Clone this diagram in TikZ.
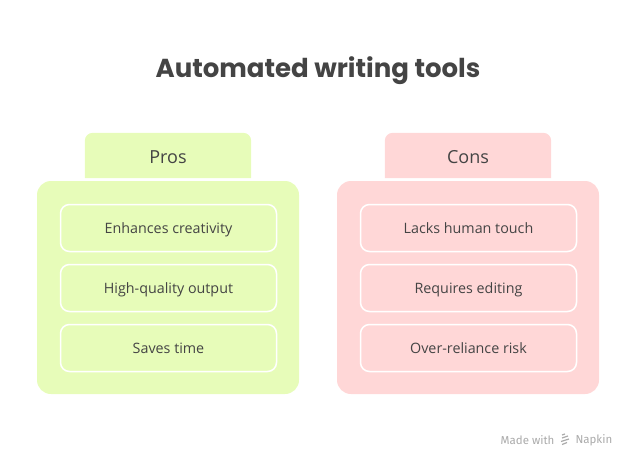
\documentclass[tikz,border=0pt]{standalone}
\usepackage{fontspec}
\setmainfont{Open Sans}
\newfontfamily\titlefont{Poppins}
\newfontfamily\wmfont{Fira Sans}
\definecolor{ink}{HTML}{444444}
\definecolor{proscol}{HTML}{E7FCB9}
\definecolor{conscol}{HTML}{FFD7D7}
\definecolor{markgray}{HTML}{AAAAAA}
\begin{document}
\begin{tikzpicture}[x=1pt,y=-1pt,
  panel/.style={rounded corners=14pt, minimum width=262pt, minimum height=213pt, inner sep=0pt},
  tabbox/.style={minimum width=166pt, minimum height=45pt, inner sep=0pt, text depth=0pt, text=ink, font=\fontsize{18}{22}\selectfont},
  item/.style={draw=white, line width=1.5pt, rounded corners=9pt, minimum width=216pt, minimum height=47pt, inner sep=0pt, text depth=0pt, text=ink, font=\fontsize{14.3}{17}\selectfont},
  wmark/.style={text=markgray, font=\wmfont\fontsize{11.5}{13}\selectfont}]
\useasboundingbox (0,0) rectangle (636,468);
\node[text=ink, font=\titlefont\bfseries\fontsize{26}{30}\selectfont] (title) at (318,70.5) {Automated writing tools};
% Pros
\node[panel, fill=proscol] (prosbox) at (168,287.5) {};
\node[tabbox] (prostab) at (168,155.5) {};
\fill[proscol] (prostab.south west) [rounded corners=8pt] -- (prostab.north west) -- (prostab.north east) [sharp corners] -- (prostab.south east) -- cycle;
\node[tabbox] (prostxt) at (168,157) {Pros};
\node[item, fill=proscol] (p1) at (168.5,228) {Enhances creativity};
\node[item, fill=proscol] (p2) at (168.5,288) {High-quality output};
\node[item, fill=proscol] (p3) at (168.5,348) {Saves time};
% Cons
\node[panel, fill=conscol] (consbox) at (468,287.5) {};
\node[tabbox] (constab) at (468,155.5) {};
\fill[conscol] (constab.south west) [rounded corners=8pt] -- (constab.north west) -- (constab.north east) [sharp corners] -- (constab.south east) -- cycle;
\node[tabbox] (constxt) at (468,157) {Cons};
\node[item, fill=conscol] (c1) at (468.5,228) {Lacks human touch};
\node[item, fill=conscol] (c2) at (468.5,288) {Requires editing};
\node[item, fill=conscol] (c3) at (468.5,348) {Over-reliance risk};
% watermark
\node[wmark, anchor=east] (made) at (558,440) {Made with};
\node[wmark, anchor=west] (napkin) at (572,440) {Napkin};
\coordinate (lg) at (565,440);
\draw[markgray, line width=1.2pt] ([xshift=-3pt,yshift=-4.5pt]lg) -- ([xshift=2pt,yshift=-2.5pt]lg)
  ([xshift=-4pt,yshift=-1.5pt]lg) -- ([xshift=4pt,yshift=1pt]lg)
  ([xshift=-3pt,yshift=2pt]lg) -- ([xshift=3pt,yshift=4pt]lg)
  ([xshift=-3pt,yshift=5pt]lg) -- ([xshift=0pt,yshift=6pt]lg);
\end{tikzpicture}
\end{document}
